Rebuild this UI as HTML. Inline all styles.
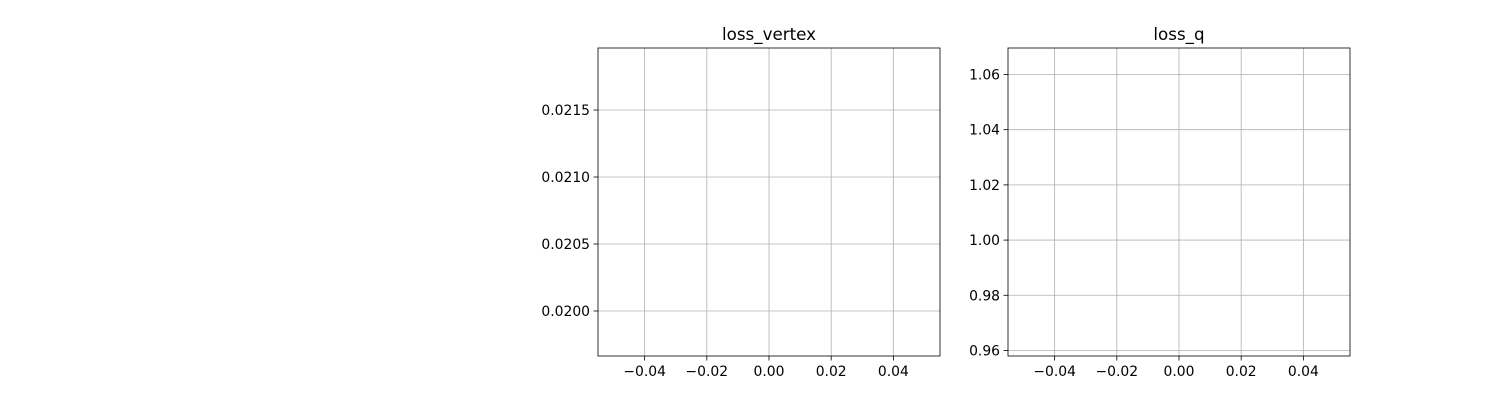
<!DOCTYPE html>
<html><head><meta charset="utf-8">
<style>
html,body{margin:0;padding:0;background:#fff;}
svg{display:block;font-family:"DejaVu Sans","Liberation Sans",sans-serif;}
</style></head>
<body>
<svg id="fig" width="1500" height="400" viewBox="0 0 1500 400"></svg>
<script>
const xTicks = [-0.04, -0.02, 0.00, 0.02, 0.04];
const xTickLabels = ["\u22120.04", "\u22120.02", "0.00", "0.02", "0.04"];
const vertexTicks = [0.0200, 0.0205, 0.0210, 0.0215];
const vertexTickLabels = ["0.0200", "0.0205", "0.0210", "0.0215"];
const qTicks = [0.96, 0.98, 1.00, 1.02, 1.04, 1.06];
const qTickLabels = ["0.96", "0.98", "1.00", "1.02", "1.04", "1.06"];
const epochs = [0];
const lossVertex = [0.02081];
const lossQ = [1.0];

const NS = "http://www.w3.org/2000/svg";
const svg = document.getElementById('fig');
function mk(tag, attrs, parent) {
  const e = document.createElementNS(NS, tag);
  for (const k in attrs) e.setAttribute(k, attrs[k]);
  (parent || svg).appendChild(e);
  return e;
}
function panel(name, title, left, right, top, bottom, xMin, xMax, yMin, yMax, yT, yL, ys) {
  const g = mk('g', {});
  
  
  const sx = v => left + (v - xMin) / (xMax - xMin) * (right - left);
  const sy = v => bottom - (v - yMin) / (yMax - yMin) * (bottom - top);
  xTicks.forEach((t, i) => {
    const x = sx(t);
    const gl = mk('line', {x1: x, x2: x, y1: top, y2: bottom, stroke: '#b0b0b0', 'stroke-width': 0.8}, g);
    
    
    mk('line', {x1: x, x2: x, y1: bottom, y2: bottom + 4.5, stroke: '#000', 'stroke-width': 0.8}, g);
    const tx = mk('text', {x: x, y: bottom + 20, 'font-size': 13.9, 'text-anchor': 'middle', fill: '#000'}, g);
    tx.textContent = xTickLabels[i];
    
    
  });
  yT.forEach((t, i) => {
    const y = sy(t);
    const gl = mk('line', {x1: left, x2: right, y1: y, y2: y, stroke: '#b0b0b0', 'stroke-width': 0.8}, g);
    
    
    mk('line', {x1: left - 4.5, x2: left, y1: y, y2: y, stroke: '#000', 'stroke-width': 0.8}, g);
    const tx = mk('text', {x: left - 8, y: y + 5, 'font-size': 13.9, 'text-anchor': 'end', fill: '#000'}, g);
    tx.textContent = yL[i];
    
    
  });
  const pts = epochs.map((e, i) => sx(e) + ',' + sy(ys[i])).join(' ');
  const line = mk('polyline', {points: pts, fill: 'none', stroke: '#1f77b4', 'stroke-width': 1.5}, g);
  
  
  const frame = mk('rect', {x: left, y: top, width: right - left, height: bottom - top, fill: 'none', stroke: '#000', 'stroke-width': 0.8}, g);
  
  
  const tt = mk('text', {x: (left + right) / 2, y: top - 8, 'font-size': 16.7, 'text-anchor': 'middle', fill: '#000'}, g);
  tt.textContent = title;
  
  
}
panel('loss-vertex', 'loss_vertex', 598, 940, 48, 356, -0.055, 0.055, 0.019664, 0.021963, vertexTicks, vertexTickLabels, lossVertex);
panel('loss-q', 'loss_q', 1008, 1350, 48, 356, -0.055, 0.055, 0.958, 1.0696, qTicks, qTickLabels, lossQ);
</script>
</body></html>
